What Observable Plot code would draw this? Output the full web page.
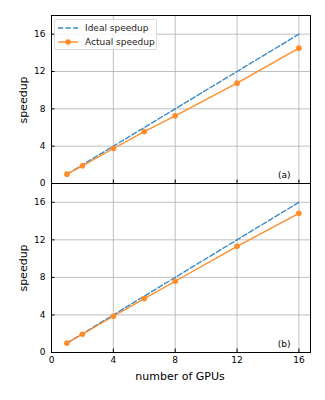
<!DOCTYPE html>
<html>
<head>
<meta charset="utf-8">
<script src="https://cdn.jsdelivr.net/npm/d3@7"></script>
<script src="https://cdn.jsdelivr.net/npm/@observablehq/plot@0.6"></script>
<style>
  html, body { margin: 0; padding: 0; background: #fff; }
  #wrap { position: relative; width: 325px; height: 400px; font-family: "DejaVu Sans", sans-serif; overflow: hidden; }
  #wrap > div.panel { position: absolute; left: 0; }
  #wrap svg { overflow: visible; }
  #legend { position: absolute; left: 54px; top: 19px; width: 103px; height: 31px; background: rgba(255,255,255,0.85);
            border: 1px solid #d9d9d9; border-radius: 2px; font-size: 9px; color: #222; box-sizing: border-box; }
  #legend .row { position: absolute; left: 2px; display: flex; align-items: center; }
  #legend svg { margin-right: 7px; }
</style>
</head>
<body>
<div id="wrap">
  <div class="panel" id="pb" style="top:183px"></div>
  <div class="panel" id="pa" style="top:0"></div>
  <div id="legend"></div>
</div>
<script>
const gpus = [1, 2, 4, 6, 8, 12, 16];
const ideal = [1, 2, 4, 6, 8, 12, 16];
const actualA = [1.0, 1.9, 3.75, 5.57, 7.25, 10.75, 14.5];
const actualB = [1.0, 1.95, 3.86, 5.74, 7.59, 11.31, 14.82];
const xTicks = [0, 4, 8, 12, 16];
const yTicks = [0, 4, 8, 12, 16];
const gridTicks = [4, 8, 12, 16];
const panelLabels = ["(a)", "(b)"];
const seriesNames = ["Ideal speedup", "Actual speedup"];
const blue = "#3a8ac9";
const orange = "#ff8c26";
const dash = "5.2,2.4";

function rows(ys) { return gpus.map((g, i) => ({x: g, y: ys[i]})); }

function panel(actual, label, showX) {
  const h = showX ? 217 : 183;
  return Plot.plot({
    width: 325,
    height: h,
    marginTop: showX ? 0 : 15,
    marginBottom: showX ? 48 : 0,
    marginLeft: 51,
    marginRight: 15,
    style: {fontFamily: "DejaVu Sans, sans-serif", fontSize: "9px", color: "#000", background: "transparent", overflow: "visible"},
    x: {domain: [0, 16.75]},
    y: {domain: [0, 18]},
    marks: [
      Plot.ruleX(gridTicks, {stroke: "#b0b0b0", strokeWidth: 0.8}),
      Plot.ruleY(gridTicks, {stroke: "#b0b0b0", strokeWidth: 0.8}),
      Plot.axisY(yTicks, {anchor: "left", tickSize: -3.5, tickPadding: 9.5, stroke: "#000", fill: "#000", label: null, fontSize: 9}),
      Plot.axisX(xTicks, {anchor: "bottom", tickSize: -3.5, tickPadding: 7.5, stroke: "#000", fill: "#000",
        label: null, fontSize: 9, text: showX ? undefined : null}),
      Plot.line(rows(ideal), {x: "x", y: "y", stroke: blue, strokeWidth: 1.4, strokeDasharray: dash}),
      Plot.line(rows(actual), {x: "x", y: "y", stroke: orange, strokeWidth: 1.4}),
      Plot.dot(rows(actual), {x: "x", y: "y", fill: orange, r: 2.8}),
      Plot.text([label], {frameAnchor: "bottom-right", dx: -20, dy: -6, fontSize: 9, fill: "#000"}),
      Plot.frame({stroke: "#000", strokeWidth: 1})
    ]
  });
}

document.getElementById("pa").appendChild(panel(actualA, panelLabels[0], false));
document.getElementById("pb").appendChild(panel(actualB, panelLabels[1], true));

// axis titles
const wrap = document.getElementById("wrap");
function addText(txt, css) {
  const d = document.createElement("div");
  d.textContent = txt;
  d.style.cssText = "position:absolute;font-size:11px;line-height:11px;color:#000;white-space:nowrap;" + css;
  wrap.appendChild(d);
}
addText("speedup", "left:22.5px;top:100px;transform:translate(-50%,-50%) rotate(-90deg);");
addText("speedup", "left:22.5px;top:267.5px;transform:translate(-50%,-50%) rotate(-90deg);");
addText("number of GPUs", "left:180px;top:376px;transform:translate(-50%,-50%);");

// legend
const leg = document.getElementById("legend");
seriesNames.forEach((name, i) => {
  const row = document.createElement("div");
  row.className = "row";
  row.style.top = (i === 0 ? 2 : 16) + "px";
  const svg = d3.create("svg").attr("width", 21).attr("height", 12);
  svg.append("line").attr("x1", 1).attr("x2", 21).attr("y1", 6).attr("y2", 6)
    .attr("stroke", i === 0 ? blue : orange).attr("stroke-width", 1.4)
    .attr("stroke-dasharray", i === 0 ? dash : null);
  if (i === 1) svg.append("circle").attr("cx", 11).attr("cy", 6).attr("r", 2.8).attr("fill", orange);
  row.appendChild(svg.node());
  const t = document.createElement("span");
  t.textContent = name;
  row.appendChild(t);
  leg.appendChild(row);
});
</script>
</body>
</html>
